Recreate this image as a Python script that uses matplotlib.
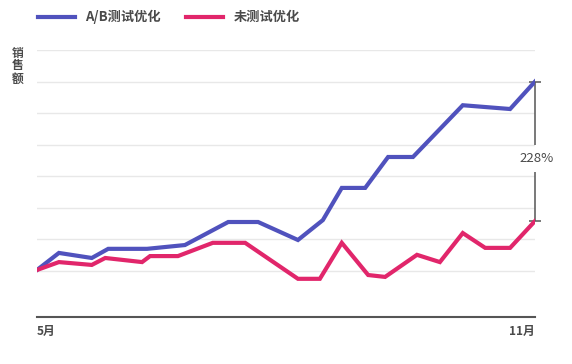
import matplotlib
matplotlib.use("Agg")
from matplotlib import pyplot as plt

plt.rcParams['font.family'] = ['Noto Sans CJK SC', 'DejaVu Sans']

# x: position within the May..November period (0 = 5月, 100 = 11月)
ab_x = [0, 4.4, 11.0, 14.3, 22.1, 29.7, 38.4, 44.4, 52.4, 57.4, 61.2, 65.9, 70.5, 75.5, 85.5, 95.0, 100]
ab_sales = [0.03, 0.57, 0.41, 0.70, 0.70, 0.82, 1.55, 1.55, 0.98, 1.61, 2.63, 2.63, 3.61, 3.61, 5.25, 5.13, 6.0]

no_x = [0, 4.4, 11.0, 13.7, 21.1, 22.7, 28.3, 35.3, 41.8, 52.4, 56.8, 61.2, 66.5, 69.9, 76.3, 80.9, 85.5, 90.0, 95.0, 100]
no_sales = [0.03, 0.28, 0.19, 0.41, 0.28, 0.47, 0.47, 0.89, 0.89, -0.25, -0.25, 0.89, -0.13, -0.19, 0.51, 0.28,
            1.20, 0.73, 0.73, 1.58]

grid_vals = [0, 1, 2, 3, 4, 5, 6, 7]
tick_pos = [0, 100]
tick_labels = ["5月", "11月"]
series_names = ["A/B测试优化", "未测试优化"]
ylabel_chars = ["销", "售", "额"]
lift_label = "228%"

blue = "#5052bd"
red = "#e1266b"
dark = "#4a4a4a"

fig = plt.figure(figsize=(5.72, 3.64), dpi=100)
ax = fig.add_axes([37 / 572, 1 - 317 / 364, 498 / 572, 267 / 364])

for g in grid_vals:
    ax.axhline(g, color="#e8e8e8", lw=1.0, zorder=0)

ax.plot(ab_x, ab_sales, color=blue, lw=3, solid_joinstyle="miter", label=series_names[0], zorder=3)
ax.plot(no_x, no_sales, color=red, lw=3, solid_joinstyle="miter", label=series_names[1], zorder=3)

ax.set_xlim(0, 100)
ax.set_ylim(-1.46, 7)

for s in ["top", "right", "left"]:
    ax.spines[s].set_visible(False)
ax.spines["bottom"].set_color("#555555")
ax.spines["bottom"].set_linewidth(1.5)

ax.set_yticks([])
ax.set_xticks(tick_pos)
ax.set_xticklabels(tick_labels, fontsize=8.5, color=dark, fontweight="bold")
ax.tick_params(axis="x", length=0, pad=6)
ax.get_xticklabels()[0].set_ha("left")
ax.get_xticklabels()[1].set_ha("right")

# lift bracket between the two series' last values
top = ab_sales[-1]
bot = no_sales[-1]
mid = (top + bot) / 2 - 0.22
gap = 0.42
xe = ab_x[-1]
ax.vlines(xe, mid + gap, top, color="#555555", lw=1.1, clip_on=False)
ax.vlines(xe, bot, mid - gap, color="#555555", lw=1.1, clip_on=False)
ax.hlines([top, bot], xe - 1.3, xe + 1.3, color="#555555", lw=1.1, clip_on=False)
ax.text(xe + 0.4, mid, lift_label, ha="center", va="center", fontsize=9.5, color=dark)

# vertical y label, one character per line
for i, ch in enumerate(ylabel_chars):
    fig.text(18 / 572, 1 - (53 + 13 * i) / 364, ch, ha="center", va="center", fontsize=8.5,
             color=dark, fontweight="bold")

fig.legend(loc="center left", bbox_to_anchor=(26 / 572, 1 - 17 / 364), ncol=2, frameon=False,
           handlelength=2.8, handletextpad=0.8, columnspacing=1.9,
           prop={"size": 9.5, "weight": "bold"}, labelcolor=dark)

fig.savefig("out.png", dpi=100)
